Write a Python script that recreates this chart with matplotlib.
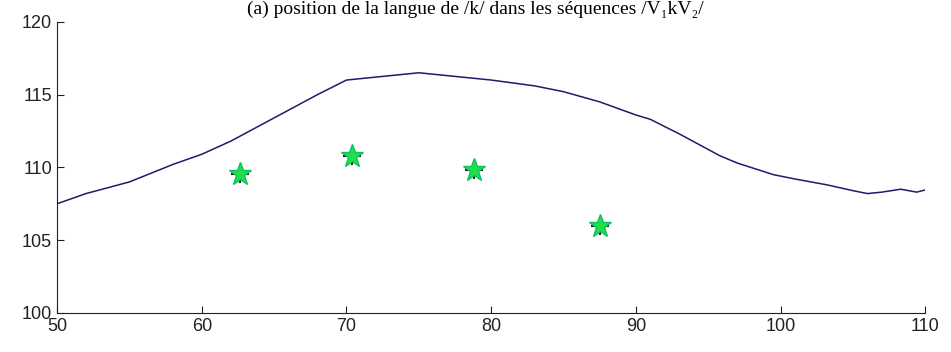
import matplotlib
matplotlib.use("Agg")
import matplotlib.pyplot as plt

# Tongue position curve for /k/
curve_x = [50, 52, 55, 58, 60, 62, 65, 68, 70, 72, 75, 78, 80, 83, 85, 87.5, 90,
           91, 93, 95.8, 97, 99.5, 101, 103.2, 105, 106, 107, 108.3, 109.4, 110]
curve_y = [107.5, 108.2, 109.0, 110.2, 110.9, 111.8, 113.4, 115.0, 116.0, 116.2, 116.5,
           116.2, 116.0, 115.6, 115.2, 114.5, 113.6, 113.3, 112.3, 110.8, 110.3, 109.5,
           109.2, 108.8, 108.4, 108.2, 108.3, 108.5, 108.3, 108.45]

# Measured points
pts_x = [62.65, 70.4, 78.8, 87.5]
pts_y = [109.55, 110.8, 109.8, 106.0]

fig = plt.figure(figsize=(9.51, 3.52), dpi=100)
ax = fig.add_axes([0.060, 0.111, 0.913, 0.827])

ax.plot(curve_x, curve_y, color="#1c1c6a", linewidth=1.1)
ax.plot(pts_x, pts_y, linestyle="none", marker="+", markersize=13, mew=1.5, color="#222222")
ax.plot(pts_x, pts_y, linestyle="none", marker="*", markersize=17, color="#1fe04a",
        markeredgecolor="#10c060")

ax.set_xlim(50, 110)
ax.set_ylim(100, 120)
ax.set_xticks([50, 60, 70, 80, 90, 100, 110])
ax.set_yticks([100, 105, 110, 115, 120])
ax.tick_params(direction="in", length=5, labelsize=13, colors="#222222")
for lab in ax.get_xticklabels() + ax.get_yticklabels():
    lab.set_family("Liberation Sans")
for side in ["top", "right"]:
    ax.spines[side].set_visible(False)
for side in ["left", "bottom"]:
    ax.spines[side].set_color("#222222")

fig.text(0.5, 0.998, "(a) position de la langue de /k/ dans les séquences /V\u2081kV\u2082/",
         ha="center", va="top", fontsize=14, family=["Liberation Serif", "DejaVu Serif"])

fig.savefig("out.png", dpi=100)
